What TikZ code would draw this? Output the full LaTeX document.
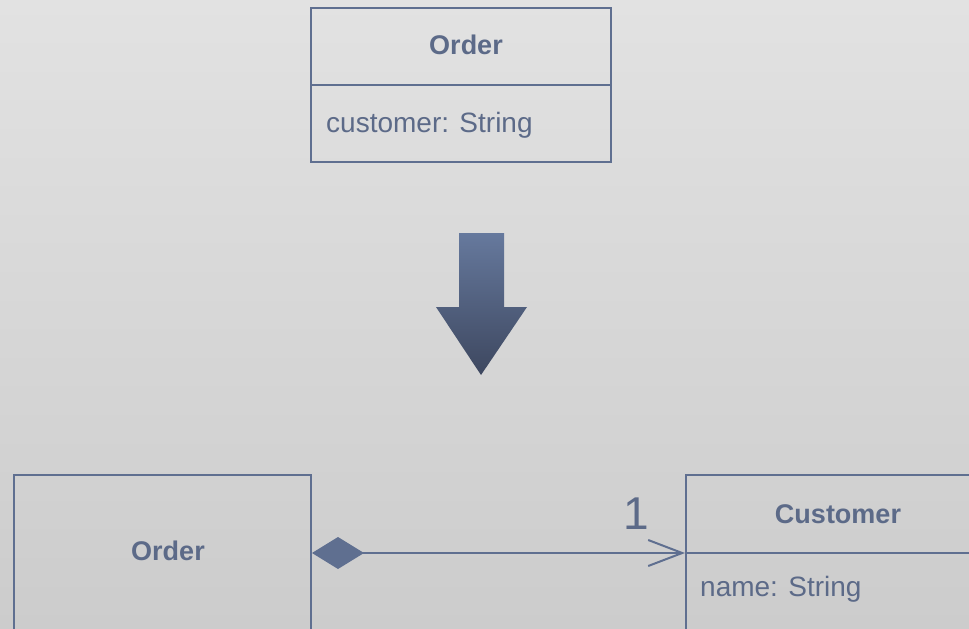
\documentclass[tikz,border=0pt]{standalone}
\usepackage{fontspec}
\setmainfont{Liberation Sans}
\usetikzlibrary{arrows.meta}
\definecolor{umlline}{HTML}{5F6F90}
\definecolor{umltext}{HTML}{5C6A88}
\definecolor{bgtop}{HTML}{E2E2E2}
\definecolor{bgbot}{HTML}{CCCCCC}
\definecolor{arrtop}{HTML}{66799D}
\definecolor{arrbot}{HTML}{3D475F}
\tikzset{
  classbox/.style={draw=umlline, line width=2pt, rectangle, inner sep=0pt},
  classname/.style={text=umltext, font=\fontsize{27}{30}\selectfont\bfseries, inner sep=0pt},
  attrtext/.style={text=umltext, font=\fontsize{28}{32}\selectfont, inner sep=0pt, anchor=west},
  divider/.style={draw=umlline, line width=2pt},
  composition/.style={draw=umlline, line width=2.5pt,
    {Diamond[length=52pt,width=32pt,fill=umlline]}-{Straight Barb[length=34pt,width=26pt,line width=2pt]}},
  multiplicity/.style={text=umltext, font=\fontsize{46}{50}\selectfont, inner sep=0pt}
}
\begin{document}
\begin{tikzpicture}[x=1pt,y=-1pt]
\useasboundingbox (0,0) rectangle (969,629);
\clip (0,0) rectangle (969,629);
% background
\shade[top color=bgtop, bottom color=bgbot] (0,0) rectangle (969,629);

% original class
\node[classbox, minimum width=300pt, minimum height=154pt, anchor=north west] (ordtop) at (310,7) {};
\coordinate (ordtopdiv) at (310,85);
\draw[divider] (ordtopdiv) -- (ordtopdiv -| ordtop.east);
\node[classname] (ordtopname) at (466,45) {Order};
\node[attrtext] (ordtopattr) at (326,125) {customer: String};

% transformation arrow
\shade[top color=arrtop, bottom color=arrbot]
  (459,233) -- (504,233) -- (504,307) -- (527,307) -- (481,375) -- (436,307) -- (459,307) -- cycle;

% refactored classes
\node[classbox, minimum width=297pt, minimum height=240pt, anchor=north west] (ordbot) at (13,474) {};
\node[classname] (ordbotname) at (168,551) {Order};

\node[classbox, minimum width=320pt, minimum height=240pt, anchor=north west] (cust) at (685,474) {};
\coordinate (custdiv) at (685,553);
\draw[divider] (custdiv) -- (custdiv -| cust.east);
\node[classname] (custname) at (838,514) {Customer};
\node[attrtext] (custattr) at (700,589) {name: String};

% composition association
\draw[composition] (custdiv -| ordbot.east) -- (custdiv);
\node[multiplicity] (mult) at (636,514) {1};
\end{tikzpicture}
\end{document}
